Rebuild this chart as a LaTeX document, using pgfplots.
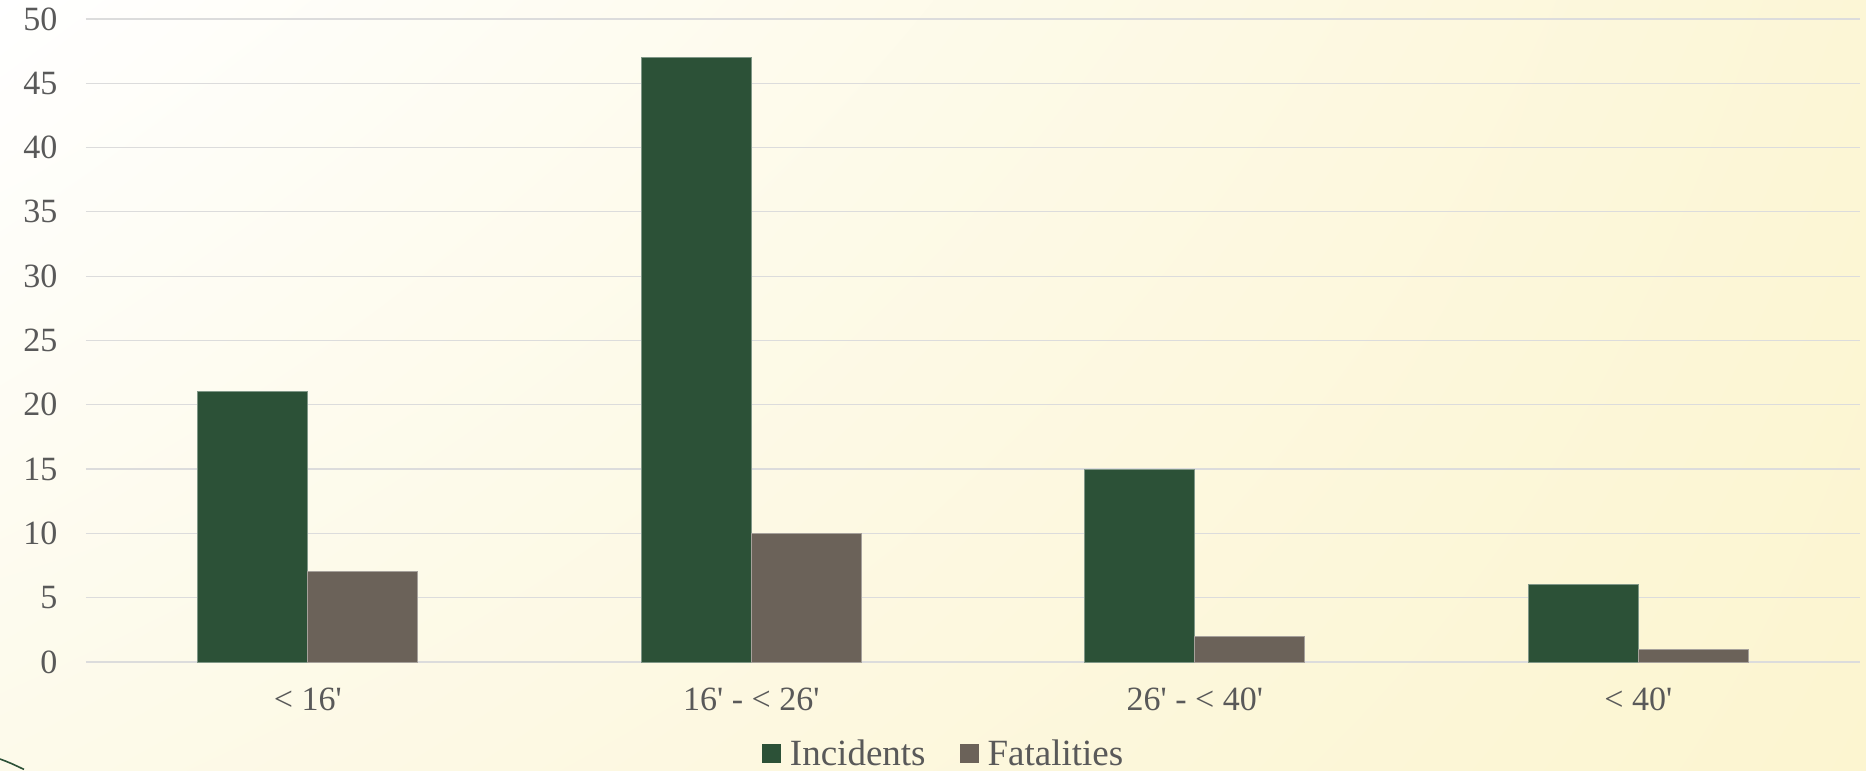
\documentclass[border=0pt]{standalone}
\usepackage{pgfplots}
\pgfplotsset{compat=1.18}
\usetikzlibrary{shadings}
\usepackage{fontspec}
\setmainfont{Liberation Serif}
\definecolor{inc}{HTML}{2C5137}
\definecolor{fat}{HTML}{6B6259}
\definecolor{txt}{HTML}{595959}
\definecolor{gridc}{HTML}{DCDCDC}
\definecolor{bgUR}{HTML}{FCF6D6}
\definecolor{bgLL}{HTML}{FDFAEA}
\definecolor{bgLR}{HTML}{FCF5D0}
\begin{document}
\begin{tikzpicture}[x=1pt,y=1pt]
\useasboundingbox (0,0) rectangle (933,385);
\shade[upper left=white, upper right=bgUR, lower left=bgLL, lower right=bgLR] (0,0) rectangle (933,385);
\draw[inc, line width=0.8pt] (0,5.5) .. controls (5,3.6) .. (12,0.3);
\begin{axis}[
  at={(43pt,54pt)}, anchor=south west,
  scale only axis, width=887pt, height=321.5pt,
  ymin=0, ymax=50, ytick={0,5,...,50},
  xmin=-0.5, xmax=3.5, xtick={0,1,2,3},
  xticklabels={< 16\textquotesingle, 16\textquotesingle\ - < 26\textquotesingle, 26\textquotesingle\ - < 40\textquotesingle, < 40\textquotesingle},
  ybar=0pt, bar width=55pt,
  axis line style={draw=none},
  major tick length=0pt,
  ymajorgrids, major grid style={gridc, line width=0.6pt},
  /pgf/number format/assume math mode=true,
  tick label style={font=\fontsize{17}{20}\selectfont, text=txt},
  yticklabel style={anchor=east, xshift=-10.8pt},
  xticklabel style={anchor=north, yshift=-9.3pt},
  legend style={at={(0.484,-0.143)}, anchor=center, draw=none, fill=none,
    legend columns=-1, font=\fontsize{18.5}{22}\selectfont, text=txt,
    /tikz/every even column/.append style={column sep=15pt}},
  legend image code/.code={\fill[#1, draw=none] (0pt,-4.5pt) rectangle (9.5pt,5pt); \path[draw=none, fill=none] (0pt,0pt) -- (12pt,0pt);},
  clip=false,
]
\addplot[fill=inc, draw=inc!60!white, line width=0.5pt] coordinates {(0,21) (1,47) (2,15) (3,6)};
\addlegendentry{Incidents}
\addplot[fill=fat, draw=fat!60!white, line width=0.5pt] coordinates {(0,7) (1,10) (2,2) (3,1)};
\addlegendentry{Fatalities}
\end{axis}
\end{tikzpicture}
\end{document}
